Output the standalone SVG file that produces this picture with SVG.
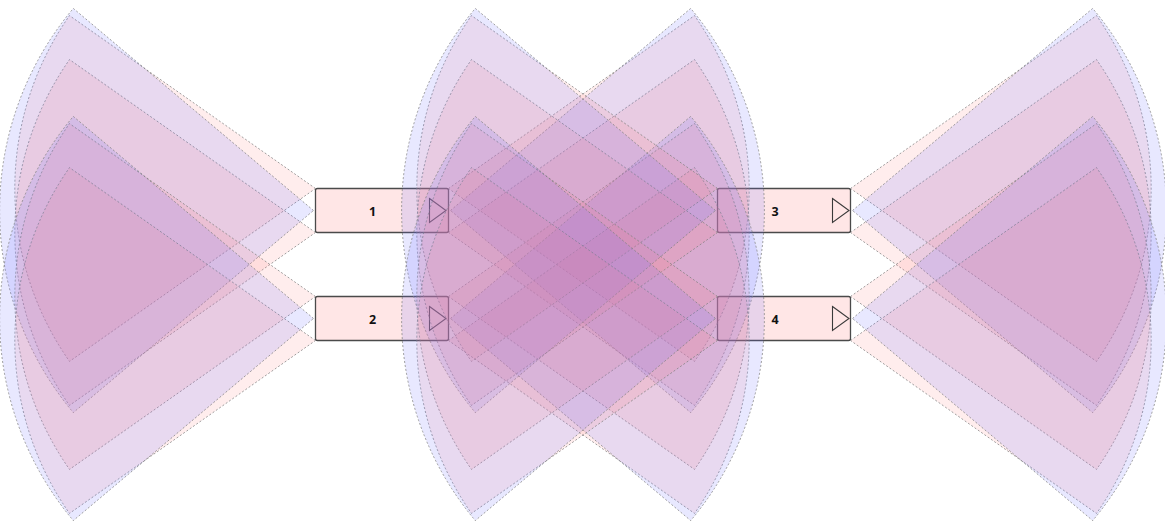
<svg xmlns="http://www.w3.org/2000/svg" xmlns:xlink="http://www.w3.org/1999/xlink" width="1165" height="521" viewBox="0 0 1165 521">
<style>
.box{fill:#ffe6e6;stroke:#4a4a4a;stroke-width:1.3}
.lbl{font-family:"Noto Sans","Open Sans","DejaVu Sans",sans-serif;font-weight:bold;font-size:12.5px;fill:#111;text-anchor:middle}
.tri{fill:none;stroke:#3a3a3a;stroke-width:1.1}
.fb{fill:rgb(110,110,255);fill-opacity:.16;stroke:#808080;stroke-opacity:.75;stroke-width:1;stroke-dasharray:2 2}
.fo{fill:rgb(255,125,128);fill-opacity:.14;stroke:#808080;stroke-opacity:.75;stroke-width:1;stroke-dasharray:2 2}
</style>
<defs>
<path id="sb" d="M0,0 L-240.2,-202.1 A314,314 0 0 0 -240.2,202.1 Z"/>
<path id="so" d="M0,0 L-246,-172.9 A300.7,300.7 0 0 0 -246,172.9 Z"/>
</defs>
<rect width="1165" height="521" fill="#fff"/>
<g id="node1">
<rect class="box" x="315.5" y="188.5" width="133" height="44" rx="2"/>
<text class="lbl" x="372.7" y="215.5">1</text>
<polygon class="tri" points="429.5,198.5 446,210.5 429.5,222.5"/>
</g>
<g id="node2">
<rect class="box" x="315.5" y="296.5" width="133" height="44" rx="2"/>
<text class="lbl" x="372.7" y="323.5">2</text>
<polygon class="tri" points="429.5,306.5 446,318.5 429.5,330.5"/>
</g>
<g id="node3">
<rect class="box" x="717.5" y="188.5" width="133" height="44" rx="2"/>
<text class="lbl" x="775" y="215.5">3</text>
<polygon class="tri" points="832.5,198.5 849,210.5 832.5,222.5"/>
</g>
<g id="node4">
<rect class="box" x="717.5" y="296.5" width="133" height="44" rx="2"/>
<text class="lbl" x="775" y="323.5">4</text>
<polygon class="tri" points="832.5,306.5 849,318.5 832.5,330.5"/>
</g>
<g id="connectors">
<!-- node 1 -->
<use xlink:href="#so" class="fo" transform="translate(315.5,188.5)"/>
<use xlink:href="#so" class="fo" transform="translate(315.5,232.5)"/>
<use xlink:href="#sb" class="fb" transform="translate(313.5,210.5)"/>
<use xlink:href="#so" class="fo" transform="translate(448.5,188.5) scale(-1,1)"/>
<use xlink:href="#so" class="fo" transform="translate(448.5,232.5) scale(-1,1)"/>
<use xlink:href="#sb" class="fb" transform="translate(450.5,210.5) scale(-1,1)"/>
<!-- node 2 -->
<use xlink:href="#so" class="fo" transform="translate(315.5,296.5)"/>
<use xlink:href="#so" class="fo" transform="translate(315.5,340.5)"/>
<use xlink:href="#sb" class="fb" transform="translate(313.5,318.5)"/>
<use xlink:href="#so" class="fo" transform="translate(448.5,296.5) scale(-1,1)"/>
<use xlink:href="#so" class="fo" transform="translate(448.5,340.5) scale(-1,1)"/>
<use xlink:href="#sb" class="fb" transform="translate(450.5,318.5) scale(-1,1)"/>
<!-- node 3 -->
<use xlink:href="#so" class="fo" transform="translate(717.5,188.5)"/>
<use xlink:href="#so" class="fo" transform="translate(717.5,232.5)"/>
<use xlink:href="#sb" class="fb" transform="translate(715.5,210.5)"/>
<use xlink:href="#so" class="fo" transform="translate(850.5,188.5) scale(-1,1)"/>
<use xlink:href="#so" class="fo" transform="translate(850.5,232.5) scale(-1,1)"/>
<use xlink:href="#sb" class="fb" transform="translate(852.5,210.5) scale(-1,1)"/>
<!-- node 4 -->
<use xlink:href="#so" class="fo" transform="translate(717.5,296.5)"/>
<use xlink:href="#so" class="fo" transform="translate(717.5,340.5)"/>
<use xlink:href="#sb" class="fb" transform="translate(715.5,318.5)"/>
<use xlink:href="#so" class="fo" transform="translate(850.5,296.5) scale(-1,1)"/>
<use xlink:href="#so" class="fo" transform="translate(850.5,340.5) scale(-1,1)"/>
<use xlink:href="#sb" class="fb" transform="translate(852.5,318.5) scale(-1,1)"/>
</g>
</svg>
